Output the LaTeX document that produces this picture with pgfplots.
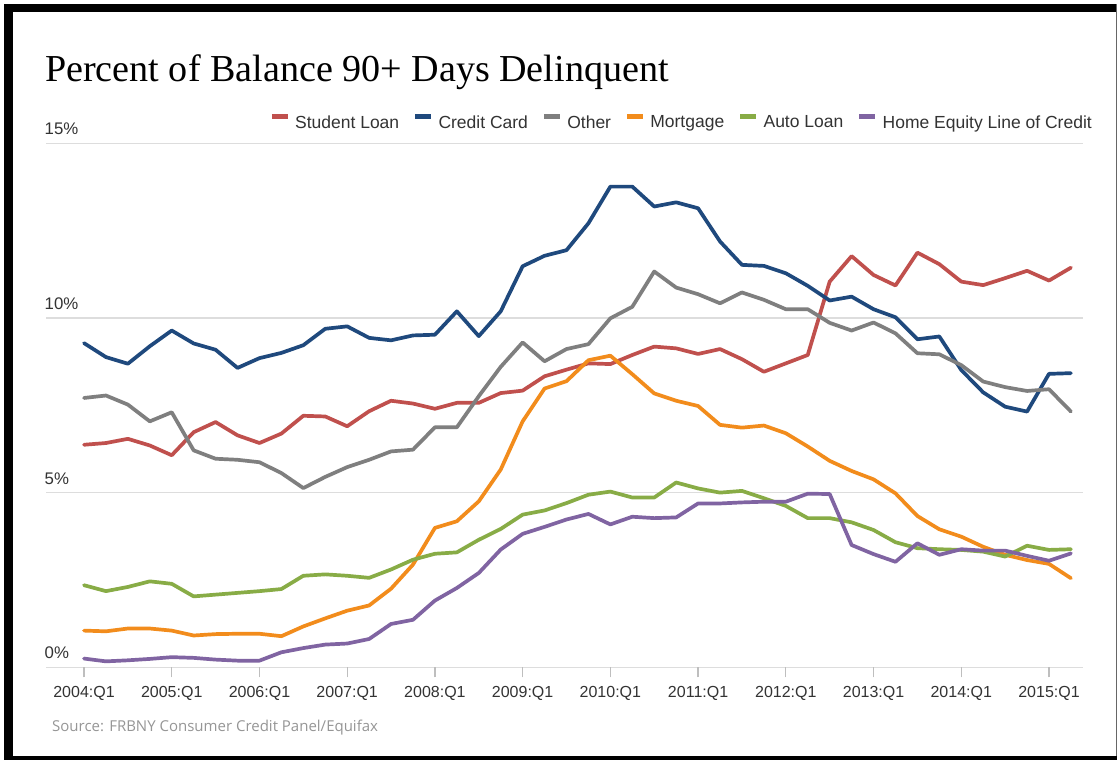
\documentclass[border=0pt]{standalone}
\usepackage{pgfplots}
\pgfplotsset{compat=1.18}
\usepackage{pgfplotstable}
\usepackage{fontspec}
\setmainfont{Liberation Sans}
\newfontfamily\titlefont{Liberation Serif}
\newfontfamily\srcfont{Open Sans}
\definecolor{cSL}{RGB}{192,80,77}
\definecolor{cCC}{RGB}{31,73,125}
\definecolor{cOT}{RGB}{127,127,127}
\definecolor{cMO}{RGB}{242,140,28}
\definecolor{cAU}{RGB}{136,172,70}
\definecolor{cHE}{RGB}{128,100,162}
\definecolor{gridc}{RGB}{221,221,221}
\definecolor{tickc}{RGB}{190,190,190}
\definecolor{txt}{RGB}{51,51,51}
\definecolor{srcc}{RGB}{150,150,150}
\pgfplotstableread{
i sl cc ot mo au he
0 6.37 9.28 7.71 1.05 2.35 0.25
1 6.42 8.88 7.78 1.03 2.18 0.17
2 6.54 8.69 7.52 1.11 2.30 0.20
3 6.35 9.19 7.04 1.11 2.46 0.24
4 6.07 9.64 7.30 1.05 2.39 0.29
5 6.73 9.27 6.21 0.91 2.03 0.27
6 7.02 9.09 5.97 0.95 2.08 0.22
7 6.64 8.57 5.94 0.96 2.13 0.19
8 6.42 8.85 5.87 0.96 2.18 0.19
9 6.69 9.00 5.56 0.89 2.24 0.43
10 7.20 9.22 5.13 1.17 2.62 0.55
11 7.18 9.69 5.45 1.40 2.66 0.65
12 6.90 9.76 5.73 1.62 2.62 0.68
13 7.33 9.43 5.94 1.77 2.56 0.81
14 7.63 9.36 6.18 2.25 2.80 1.24
15 7.55 9.50 6.23 2.94 3.08 1.36
16 7.40 9.52 6.87 3.99 3.25 1.91
17 7.57 10.19 6.87 4.18 3.29 2.27
18 7.57 9.48 7.76 4.75 3.65 2.70
19 7.85 10.19 8.60 5.66 3.96 3.37
20 7.92 11.48 9.30 7.04 4.37 3.82
21 8.33 11.78 8.76 7.98 4.49 4.02
22 8.52 11.94 9.11 8.19 4.70 4.23
23 8.70 12.71 9.25 8.79 4.94 4.39
24 8.68 13.76 9.99 8.92 5.03 4.09
25 8.94 13.76 10.32 8.39 4.86 4.31
26 9.18 13.19 11.33 7.84 4.86 4.27
27 9.13 13.31 10.87 7.63 5.29 4.29
28 8.97 13.14 10.68 7.48 5.12 4.69
29 9.11 12.19 10.42 6.94 5.00 4.69
30 8.82 11.52 10.73 6.86 5.05 4.72
31 8.46 11.49 10.52 6.92 4.84 4.74
32 8.70 11.28 10.25 6.70 4.62 4.74
33 8.94 10.92 10.25 6.32 4.27 4.97
34 11.04 10.50 9.86 5.91 4.27 4.96
35 11.77 10.61 9.64 5.62 4.15 3.50
36 11.23 10.25 9.87 5.38 3.93 3.24
37 10.93 10.02 9.56 4.98 3.58 3.02
38 11.87 9.39 8.99 4.33 3.41 3.55
39 11.54 9.47 8.96 3.95 3.38 3.22
40 11.04 8.51 8.65 3.74 3.36 3.38
41 10.94 7.87 8.18 3.45 3.31 3.34
42 11.14 7.46 8.02 3.22 3.17 3.34
43 11.35 7.32 7.91 3.07 3.48 3.19
44 11.07 8.40 7.96 2.96 3.36 3.05
45 11.44 8.42 7.32 2.55 3.38 3.26
}\data
\begin{document}
\begin{tikzpicture}
\fill[white] (0pt,0pt) rectangle (1119pt,760pt);
% frame
\fill[black] (4pt,748pt) rectangle (1117pt,756pt);
\fill[black] (4pt,0pt) rectangle (12.5pt,756pt);
\fill[black] (4pt,0pt) rectangle (1117pt,4pt);
\draw[black!60, line width=1pt] (1116.5pt,4pt) -- (1116.5pt,756pt);
% title
\node[anchor=base west, inner sep=0pt] at (45pt,678pt) {\titlefont\fontsize{38.1}{40}\selectfont Percent of Balance 90+ Days Delinquent};
% source
\node[anchor=base west, inner sep=0pt, text=srcc] at (52pt,28pt) {\srcfont\fontsize{15}{16}\selectfont Source: FRBNY Consumer Credit Panel/Equifax};
\begin{axis}[
  at={(46pt,92.7pt)}, anchor=south west,
  scale only axis, width=1037pt, height=524pt,
  xmin=-1.733, xmax=45.55, ymin=0, ymax=15,
  clip=false,
  axis line style={draw=none},
  ymajorgrids, xmajorgrids=false,
  grid style={gridc, line width=1.5pt},
  xtick={0,4,...,44},
  xticklabels={2004:Q1,2005:Q1,2006:Q1,2007:Q1,2008:Q1,2009:Q1,2010:Q1,2011:Q1,2012:Q1,2013:Q1,2014:Q1,2015:Q1},
  ytick={0,5,10,15},
  yticklabels={0\%,5\%,10\%,15\%},
  xtick pos=bottom, ytick pos=left,
  major tick length=10pt,
  xtick style={tickc, line width=1.2pt, yshift=-10pt},
  ytick style={draw=none},
  /pgf/number format/assume math mode=true,
  tick label style={font=\fontsize{16}{16}\selectfont, text=txt, inner sep=0pt},
  xticklabel style={anchor=base, yshift=-30.7pt},
  yticklabel style={anchor=base west, xshift=-1.5pt, yshift=8.5pt, font=\fontsize{16.8}{17}\selectfont},
  legend columns=6,
  legend style={at={(rel axis cs:1.0116,1.0407)}, anchor=east, draw=none, fill=none,
    font=\fontsize{17.5}{18}\selectfont, text=txt, nodes={inner sep=0pt},
    /tikz/every odd column/.append style={column sep=5pt},
    /tikz/every even column/.append style={column sep=13.8pt}},
  legend image code/.code={\draw[#1, line width=4.5pt, line cap=butt] (0pt,6pt) -- (16pt,6pt);},
  every axis plot/.append style={line width=3.7pt, line join=round, line cap=round},
]
\addplot[cSL] table[x=i,y=sl]{\data};
\addlegendentry{Student Loan}
\addplot[cCC] table[x=i,y=cc]{\data};
\addlegendentry{Credit Card}
\addplot[cOT] table[x=i,y=ot]{\data};
\addlegendentry{Other}
\addplot[cMO] table[x=i,y=mo]{\data};
\addlegendentry{Mortgage}
\addplot[cAU] table[x=i,y=au]{\data};
\addlegendentry{Auto Loan}
\addplot[cHE] table[x=i,y=he]{\data};
\addlegendentry{Home Equity Line of Credit}
\end{axis}
\end{tikzpicture}
\end{document}
